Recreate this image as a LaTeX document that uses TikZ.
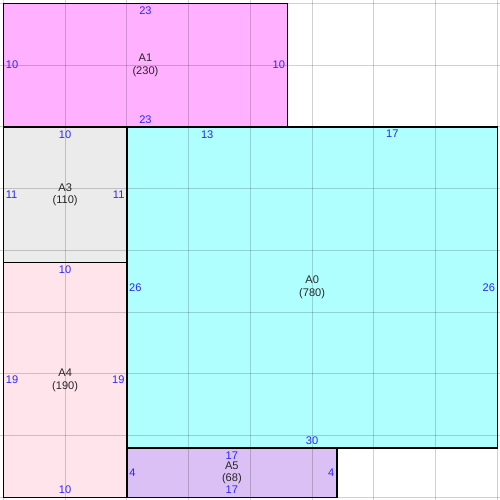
\documentclass[tikz,border=0pt]{standalone}
\usepackage{fontspec}
\setmainfont{Liberation Sans}
\usetikzlibrary{calc}
\definecolor{cA1}{RGB}{255,176,255}
\definecolor{cA3}{RGB}{235,235,235}
\definecolor{cA4}{RGB}{255,228,236}
\definecolor{cA0}{RGB}{176,255,255}
\definecolor{cA5}{RGB}{218,192,245}
\definecolor{dimblue}{RGB}{40,40,255}
\newcommand{\lblfont}{\fontsize{8.3}{9.5}\selectfont}
\begin{document}
\begin{tikzpicture}[x=0.75pt,y=-0.75pt,
  area/.style={draw=none,inner sep=0pt,outer sep=0pt,anchor=north west},
  gridline/.style={black,opacity=0.18,line width=0.75pt},
  border/.style={draw=black,line width=1.1pt},
  dim/.style={text=dimblue,inner sep=0pt,font=\lblfont},
  areaname/.style={align=center,inner sep=0pt,font=\lblfont,text=black!85}
]
\useasboundingbox (0,0) rectangle (500,500);
% areas (px: x = 3.4 + 12.35 u)
\node[area,fill=cA1,minimum width=284.05pt*0.75,minimum height=123.5pt*0.75] (A1) at (3.4,3.4) {};
\node[area,fill=cA3,minimum width=123.5pt*0.75,minimum height=135.85pt*0.75] (A3) at (3.4,126.9) {};
\node[area,fill=cA4,minimum width=123.5pt*0.75,minimum height=234.65pt*0.75] (A4) at (3.4,262.75) {};
\node[area,fill=cA0,minimum width=370.5pt*0.75,minimum height=321.1pt*0.75] (A0) at (126.9,126.9) {};
\node[area,fill=cA5,minimum width=209.95pt*0.75,minimum height=49.4pt*0.75] (A5) at (126.9,448) {};
% grid
\foreach \k in {0,...,8}{
  \draw[gridline] (3.4+61.75*\k,0) -- (3.4+61.75*\k,500);
  \draw[gridline] (0,3.4+61.75*\k) -- (500,3.4+61.75*\k);
}
% borders
\foreach \a in {A1,A3,A4,A0,A5}{
  \draw[border] (\a.north west) rectangle (\a.south east);
}
% A1
\node[areaname] (A1n) at (A1.center) {A1\\(230)};
\node[dim,anchor=north] (A1t) at ($(A1.north)+(0,3.2)$) {23};
\node[dim,anchor=south] (A1b) at ($(A1.south)+(0,-3.3)$) {23};
\node[dim,anchor=west] (A1l) at ($(A1.west)+(2.2,0)$) {10};
\node[dim,anchor=east] (A1r) at ($(A1.east)+(-2.2,0)$) {10};
% A3
\node[areaname] (A3n) at (A3.center) {A3\\(110)};
\node[dim,anchor=north] (A3t) at ($(A3.north)+(0,3.2)$) {10};
\node[dim,anchor=west] (A3l) at ($(A3.west)+(2.2,0)$) {11};
\node[dim,anchor=east] (A3r) at ($(A3.east)+(-2.2,0)$) {11};
% A4
\node[areaname] (A4n) at (A4.center) {A4\\(190)};
\node[dim,anchor=north] (A4t) at ($(A4.north)+(0,3.2)$) {10};
\node[dim,anchor=south] (A4b) at ($(A4.south)+(0,-3.3)$) {10};
\node[dim,anchor=west] (A4l) at ($(A4.west)+(2.2,0)$) {19};
\node[dim,anchor=east] (A4r) at ($(A4.east)+(-2.2,0)$) {19};
% A0
\node[areaname] (A0n) at (A0.center) {A0\\(780)};
\node[dim,anchor=north] (A0t1) at ($(A0.north west)+(80.3,3.2)$) {13};
\node[dim,anchor=north] (A0t2) at ($(A0.north west)+(265.5,3.2)$) {17};
\node[dim,anchor=south] (A0b) at ($(A0.south)+(0,-3.3)$) {30};
\node[dim,anchor=west] (A0l) at ($(A0.west)+(2,0)$) {26};
\node[dim,anchor=east] (A0r) at ($(A0.east)+(-2.2,0)$) {26};
% A5
\node[areaname] (A5n) at (A5.center) {A5\\(68)};
\node[dim,anchor=north] (A5t) at ($(A5.north)+(0,3.2)$) {17};
\node[dim,anchor=south] (A5b) at ($(A5.south)+(0,-3.3)$) {17};
\node[dim,anchor=west] (A5l) at ($(A5.west)+(2.2,0)$) {4};
\node[dim,anchor=east] (A5r) at ($(A5.east)+(-2.2,0)$) {4};
\end{tikzpicture}
\end{document}
